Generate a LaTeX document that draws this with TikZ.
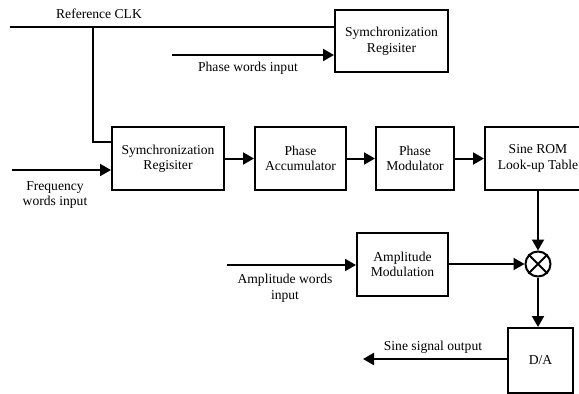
\documentclass[tikz,border=0pt]{standalone}
\usepackage{fontspec}
\setmainfont{Liberation Serif}
\usetikzlibrary{arrows.meta}
\begin{document}
\begin{tikzpicture}[x=1pt,y=-1pt,
  line width=2pt,
  every node/.style={font=\fontsize{13.6}{15.5}\selectfont},
  blk/.style={draw,align=center,inner sep=0pt},
  lbl/.style={align=center,inner sep=0pt},
  arr/.style={-{Triangle[length=11pt,width=12pt]}}]
\useasboundingbox (0,0) rectangle (579,394);
\clip (0,0) rectangle (579,394);
% blocks
\node[blk,minimum width=113pt,minimum height=62pt] (sr2) at (391.5,41) {Symchronization\\Regisiter};
\node[blk,minimum width=112pt,minimum height=63pt] (sr1) at (168,158.5) {Symchronization\\Regisiter};
\node[blk,minimum width=91pt,minimum height=63pt] (acc) at (300.5,158.5) {Phase\\Accumulator};
\node[blk,minimum width=78pt,minimum height=63pt] (mod) at (415,158.5) {Phase\\Modulator};
\node[blk,minimum width=106pt,minimum height=63pt] (rom) at (538,158.5) {Sine ROM\\Look-up Table};
\node[blk,minimum width=91pt,minimum height=63pt] (amp) at (402.5,264.5) {Amplitude\\Modulation};
\node[draw,circle,minimum size=25pt,inner sep=0pt] (mul) at (538,264) {};
\draw[line width=1.8pt] (mul.north east) -- (mul.south west) (mul.north west) -- (mul.south east);
\node[blk,minimum width=65pt,minimum height=65pt] (da) at (540.5,360.5) {D/A};
% coordinates
\coordinate (clkL) at (10,27);
\coordinate (clkT) at (93,27);
\coordinate (clkB) at (93,142);
\coordinate (pw) at (172,55);
\coordinate (fw) at (12,170);
\coordinate (aw) at (227,265);
\coordinate (so) at (363,359);
% connectors
\draw (clkL) -- (clkL -| sr2.west);
\draw (clkT) -- (clkB) -- (clkB -| sr1.west);
\draw[arr] (pw) -- (pw -| sr2.west);
\draw[arr] (fw) -- (fw -| sr1.west);
\draw[arr] (sr1.east) -- (acc.west);
\draw[arr] (acc.east) -- (mod.west);
\draw[arr] (mod.east) -- (rom.west);
\draw[arr] (rom.south -| mul.north) -- (mul.north);
\draw[arr] (aw) -- (aw -| amp.west);
\draw[arr] (amp.east |- mul.west) -- (mul.west);
\draw[arr] (mul.south) -- (mul.south |- da.north);
\draw[arr] (so -| da.west) -- (so);
% labels
\node[lbl] (lclk) at (99,14) {Reference CLK};
\node[lbl] (lpw) at (248,68) {Phase words input};
\node[lbl] (lfw) at (55,195) {Frequency\\words input};
\node[lbl] (law) at (285,288) {Amplitude words\\input};
\node[lbl] (lso) at (433,347) {Sine signal output};
\end{tikzpicture}
\end{document}
